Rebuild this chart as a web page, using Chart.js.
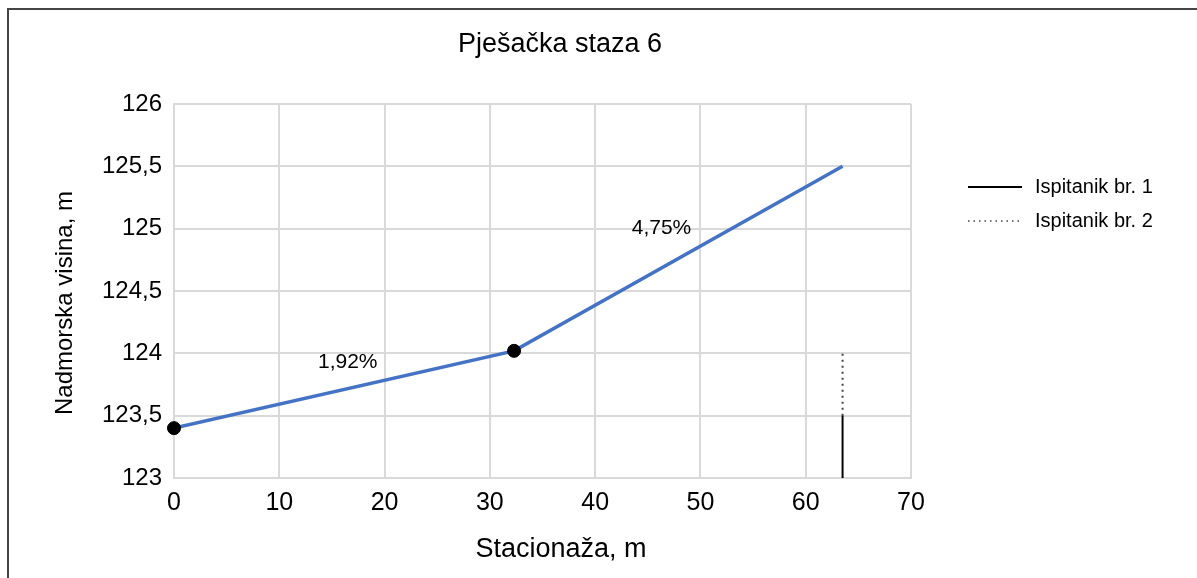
<!DOCTYPE html>
<html>
<head>
<meta charset="utf-8">
<script src="https://cdn.jsdelivr.net/npm/chart.js@4"></script>
<style>
  html, body { margin: 0; padding: 0; background: #fff; }
  #wrap { position: relative; width: 1197px; height: 578px; overflow: hidden; }
  #frame { position: absolute; left: 7px; top: 8px; width: 1300px; height: 600px;
           border-left: 2px solid #444; border-top: 2px solid #444; box-sizing: border-box; pointer-events: none; }
  canvas { position: absolute; left: 0; top: 0; }
</style>
</head>
<body>
<div id="wrap">
  <canvas id="c" width="1197" height="578"></canvas>
  <div id="frame"></div>
</div>
<script>
// Profil staze (stacionaža, visina)
const profileX = [0, 32.3, 63.5];
const profileY = [123.4, 124.02, 125.5];

// Prelomne tačke
const breakX = [0, 32.3];
const breakY = [123.4, 124.02];

// Ispitanici (vertikalne linije)
const subjectLabels = ['Ispitanik br. 1', 'Ispitanik br. 2'];
const subjectX = [63.5, 63.5];
const subjectFrom = [123, 123.5];
const subjectTo = [123.5, 124];

// Nagibi
const slopeText = ['1,92%', '4,75%'];
const slopeX = [16.5, 46.3];
const slopeY = [123.93, 125.0];

const yTicks = [123, 123.5, 124, 124.5, 125, 125.5, 126];

const TITLE = 'Pješačka staza 6';
const X_TITLE = 'Stacionaža, m';
const Y_TITLE = 'Nadmorska visina, m';

const FONT = "'Liberation Sans', Arial, sans-serif";
Chart.defaults.font.family = FONT;
Chart.defaults.color = '#000';

const pts = (xs, ys) => xs.map((x, i) => ({x, y: ys[i]}));

// tačke prve -> crtaju se iznad linije
const datasets = [
    {
        label: 'tacke',
        data: pts(breakX, breakY),
        backgroundColor: '#000',
        borderColor: '#000',
        pointRadius: 6.5,
        showLine: false,
        clip: false
    },
    {
        label: 'profil',
        data: pts(profileX, profileY),
        borderColor: '#4472C4',
        borderWidth: 3.5,
        pointRadius: 0,
        showLine: true
    }
];
subjectLabels.forEach((lab, i) => {
    datasets.push({
        label: lab,
        data: [{x: subjectX[i], y: subjectFrom[i]}, {x: subjectX[i], y: subjectTo[i]}],
        borderColor: i === 0 ? '#000' : '#444',
        borderWidth: 2,
        borderDash: i === 0 ? [] : [2, 4],
        pointRadius: 0,
        showLine: true,
        isSubject: true
    });
});

// Naslovi, natpisi nagiba i legenda desno
const extras = {
    id: 'extras',
    afterDatasetsDraw(chart) {
        const {ctx, scales: {x, y}} = chart;
        ctx.save();
        ctx.fillStyle = '#000';
        ctx.textAlign = 'center';
        ctx.textBaseline = 'middle';

        ctx.font = '27px ' + FONT;
        ctx.fillText(TITLE, 560, 45);
        ctx.fillText(X_TITLE, 561, 550);

        ctx.save();
        ctx.translate(65, 303);
        ctx.rotate(-Math.PI / 2);
        ctx.font = '24px ' + FONT;
        ctx.fillText(Y_TITLE, 0, 0);
        ctx.restore();

        ctx.font = '21px ' + FONT;
        slopeText.forEach((t, i) => {
            ctx.fillText(t, x.getPixelForValue(slopeX[i]), y.getPixelForValue(slopeY[i]));
        });

        ctx.font = '20px ' + FONT;
        ctx.textAlign = 'left';
        chart.data.datasets.filter(d => d.isSubject).forEach((d, i) => {
            const ly = 187 + i * 34;
            ctx.strokeStyle = d.borderColor;
            ctx.lineWidth = i === 0 ? 2 : 1.5;
            ctx.setLineDash(i === 0 ? [] : [1.5, 4]);
            ctx.beginPath();
            ctx.moveTo(968, ly);
            ctx.lineTo(1022, ly);
            ctx.stroke();
            ctx.setLineDash([]);
            ctx.fillText(d.label, 1035, ly);
        });
        ctx.restore();
    }
};

new Chart(document.getElementById('c'), {
    type: 'scatter',
    data: {datasets},
    plugins: [extras],
    options: {
        responsive: false,
        animation: false,
        layout: {padding: {left: 0, top: 104, right: 286, bottom: 0}},
        plugins: {
            legend: {display: false},
            tooltip: {enabled: false}
        },
        scales: {
            x: {
                type: 'linear',
                min: 0,
                max: 70,
                ticks: {stepSize: 10, padding: 10, font: {size: 25}},
                grid: {color: '#d9d9d9', lineWidth: 2, drawTicks: false},
                border: {color: '#d9d9d9', width: 2},
                afterFit: s => { s.height = 100; }
            },
            y: {
                type: 'linear',
                min: 123,
                max: 126,
                afterBuildTicks: s => { s.ticks = yTicks.map(v => ({value: v})); },
                ticks: {
                    padding: 12,
                    font: {size: 24},
                    callback: v => String(v).replace('.', ',')
                },
                grid: {color: '#d9d9d9', lineWidth: 2, drawTicks: false},
                border: {color: '#d9d9d9', width: 2},
                afterFit: s => { s.width = 174; }
            }
        }
    }
});
</script>
</body>
</html>
